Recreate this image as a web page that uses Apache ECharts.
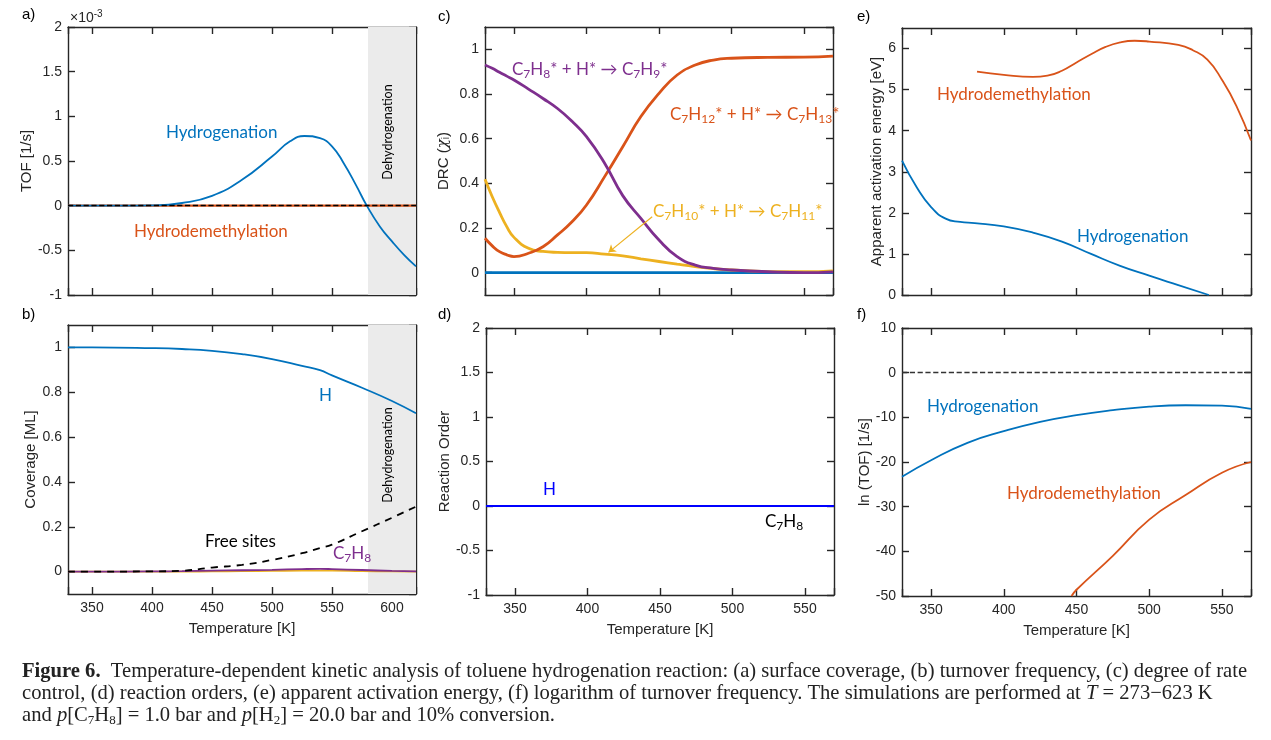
<!DOCTYPE html>
<html>
<head>
<meta charset="utf-8">
<script src="https://cdn.jsdelivr.net/npm/echarts@6/dist/echarts.min.js"></script>
<style>html,body{margin:0;padding:0;background:#fff}#chart{width:1271px;height:740px}</style>
</head>
<body>
<div id="chart"></div>
<script>
// (a) TOF, x10^-3 1/s
const tA = [330, 350, 375, 400, 425, 450, 475, 500, 515, 527, 540, 550, 560, 570, 579, 590, 600, 610, 620];
const tofHydA = [0, 0, 0, 0.003, 0.03, 0.11, 0.29, 0.55, 0.72, 0.78, 0.755, 0.665, 0.47, 0.23, 0, -0.235, -0.40, -0.55, -0.68];
const tFlatA = [330, 620];
const tofDemA = [0, 0];
// (b) coverage
const tB = [330, 350, 400, 425, 450, 475, 500, 525, 540, 550, 575, 600, 620];
const covH = [1.0, 1.0, 0.997, 0.993, 0.985, 0.97, 0.948, 0.918, 0.899, 0.875, 0.82, 0.761, 0.706];
const covFree = [0, 0, 0.001, 0.004, 0.018, 0.03, 0.052, 0.082, 0.105, 0.12, 0.18, 0.24, 0.29];
const covC7H8 = [0, 0, 0.001, 0.002, 0.004, 0.006, 0.008, 0.011, 0.012, 0.011, 0.007, 0.003, 0.001];
const covOther = [0, 0, 0, 0, 0.001, 0.002, 0.003, 0.004, 0.004, 0.004, 0.002, 0.001, 0];
// (c) DRC
const tC = [330, 335, 340, 345, 350, 360, 370, 380, 390, 400, 412.5, 425, 437.5, 450, 462.5, 475, 487.5, 500, 525, 550, 570];
const drcC7H8 = [0.93, 0.915, 0.897, 0.88, 0.863, 0.822, 0.78, 0.735, 0.678, 0.609, 0.49, 0.345, 0.243, 0.146, 0.072, 0.034, 0.019, 0.012, 0.004, 0, 0.004];
const drcC7H12 = [0.154, 0.12, 0.094, 0.08, 0.072, 0.087, 0.116, 0.169, 0.228, 0.303, 0.43, 0.564, 0.699, 0.803, 0.885, 0.93, 0.952, 0.96, 0.964, 0.965, 0.97];
const drcC7H10 = [0.418, 0.34, 0.27, 0.206, 0.158, 0.109, 0.095, 0.091, 0.09, 0.09, 0.083, 0.075, 0.062, 0.05, 0.038, 0.027, 0.018, 0.012, 0.005, 0.004, 0.008];
const tFlatC = [330, 570];
const drcOther = [0, 0];
const arrowC = [[445.3, 0.25], [415.2, 0.091]];
// (d) reaction order
const ordH = [0, 0];
const ordC7H8 = [0, 0];
// (e) apparent activation energy
const tEh = [330, 340, 350, 360, 370, 380, 400, 420, 440, 460, 480, 500, 520, 541];
const eaHyd = [3.27, 2.63, 2.14, 1.86, 1.78, 1.75, 1.67, 1.52, 1.3, 1.0, 0.71, 0.47, 0.24, 0];
const tEd = [381.6, 400, 420, 430, 440, 450, 460, 470, 480, 490, 500, 520, 530, 540, 550, 560, 570];
const eaDem = [5.44, 5.36, 5.31, 5.34, 5.46, 5.66, 5.86, 6.04, 6.15, 6.19, 6.17, 6.09, 5.96, 5.73, 5.24, 4.6, 3.76];
// (f) ln(TOF)
const tFh = [330, 350, 375, 400, 425, 450, 475, 500, 525, 550, 570];
const lnHyd = [-23.3, -19.6, -15.7, -13.1, -11.0, -9.5, -8.4, -7.6, -7.3, -7.4, -8.1];
const tFd = [446.6, 450, 475, 500, 525, 550, 570];
const lnDem = [-50, -48.6, -41, -32.9, -27.4, -22.4, -20];

const BLUE = '#0072BD', ORANGE = '#D95319', YELLOW = '#EDB120', PURPLE = '#7E2F8E';
const AX = '#262626';
const SANS = '"Liberation Sans", Arial, sans-serif';
const LAB = 'Lato, "Open Sans", sans-serif';
const SERIF = '"Liberation Serif", serif';

const grids = [
  {left: 68, top: 27, width: 348, height: 268},
  {left: 68, top: 325, width: 348, height: 269},
  {left: 485, top: 27, width: 348, height: 268},
  {left: 486, top: 328, width: 348, height: 267},
  {left: 902, top: 28, width: 349, height: 267},
  {left: 902, top: 328, width: 349, height: 268}
];
const panels = [
  {x: [330, 620], y: [-1, 2], yInt: 0.5, xLab: false, yName: 'TOF [1/s]', gap: 32},
  {x: [330, 620], y: [-0.1, 1.1], split: 6, xLab: true, yName: 'Coverage [ML]', gap: 28},
  {x: [330, 570], y: [-0.1, 1.1], split: 6, xLab: false, yName: '{n|DRC (}{c|χ}{s|i}{n|)}', gap: 34},
  {x: [330, 570], y: [-1, 2], yInt: 0.5, xLab: true, yName: 'Reaction Order', gap: 33},
  {x: [330, 570], y: [0, 6.5], yInt: 1, xLab: false, yName: 'Apparent activation energy [eV]', gap: 16, hideMax: true},
  {x: [330, 570], y: [-50, 10], yInt: 10, xLab: true, yName: 'ln (TOF) [1/s]', gap: 29}
];

const line = { show: true, onZero: false, lineStyle: { color: AX, width: 1.4 } };
const tick = { show: true, inside: true, length: 7, lineStyle: { color: AX, width: 1.4 } };
const xAxes = [], yAxes = [];
panels.forEach((p, g) => {
  const xl = {
    show: p.xLab, color: AX, fontFamily: SANS, fontSize: 14, margin: 7,
    formatter: v => (v % 50 === 0 ? String(v) : '')
  };
  xAxes.push({ type: 'value', gridIndex: g, min: p.x[0], max: p.x[1], position: 'bottom',
    axisLine: line, axisTick: tick, axisLabel: xl, splitLine: { show: false },
    name: p.xLab ? 'Temperature [K]' : '', nameLocation: 'middle', nameGap: 27,
    nameTextStyle: { color: AX, fontFamily: SANS, fontSize: 15 } });
  xAxes.push({ type: 'value', gridIndex: g, min: p.x[0], max: p.x[1], position: 'top',
    axisLine: line, axisTick: tick, axisLabel: { show: false }, splitLine: { show: false } });
  const yl = { color: AX, fontFamily: SANS, fontSize: 14, margin: 6 };
  if (p.split) { yl.showMinLabel = false; yl.showMaxLabel = false; }
  if (p.hideMax) yl.showMaxLabel = false;
  const y = { type: 'value', gridIndex: g, min: p.y[0], max: p.y[1], position: 'left',
    axisLine: line, axisTick: tick, axisLabel: yl, splitLine: { show: false },
    name: p.yName, nameLocation: 'middle', nameGap: p.gap,
    nameTextStyle: { color: AX, fontFamily: SANS, fontSize: 15,
      rich: { n: { fontFamily: SANS, fontSize: 15, color: AX },
              c: { fontFamily: '"DejaVu Serif", serif', fontStyle: 'italic', fontSize: 15, color: AX },
              s: { fontFamily: SANS, fontSize: 10, color: AX, verticalAlign: 'bottom', lineHeight: 10 } } } };
  if (p.yInt) y.interval = p.yInt; else y.splitNumber = p.split;
  yAxes.push(y);
  yAxes.push({ type: 'value', gridIndex: g, min: p.y[0], max: p.y[1], position: 'right',
    interval: p.yInt, splitNumber: p.split,
    axisLine: line, axisTick: tick, axisLabel: { show: false }, splitLine: { show: false } });
});

function ser(g, xs, ys, color, width, extra) {
  return Object.assign({
    type: 'line', xAxisIndex: 2 * g, yAxisIndex: 2 * g,
    data: xs.map((x, i) => [x, ys[i]]),
    showSymbol: false, smooth: 0.5, silent: true,
    lineStyle: { color: color, width: width }, itemStyle: { color: color }
  }, extra || {});
}
const band = { silent: true, itemStyle: { color: '#ebebeb' }, data: [[{ xAxis: 580 }, { xAxis: 620 }]] };
const zeroLine = (c) => ({ silent: true, symbol: 'none', label: { show: false },
  lineStyle: { color: c, type: 'dashed', width: 1.3 }, data: [{ yAxis: 0 }] });

const series = [
  ser(0, tFlatA, tofDemA, ORANGE, 2.2, { markArea: band, markLine: zeroLine('#000'), z: 3 }),
  ser(0, tA, tofHydA, BLUE, 1.8),
  ser(1, tB, covOther, YELLOW, 1.8, { markArea: band }),
  ser(1, tB, covC7H8, PURPLE, 1.8),
  ser(1, tB, covFree, '#000', 1.8, { lineStyle: { color: '#000', width: 1.8, type: [7, 6] } }),
  ser(1, tB, covH, BLUE, 1.8),
  ser(2, tFlatC, drcOther, BLUE, 2.8),
  ser(2, tC, drcC7H10, YELLOW, 2.8, {
    markLine: { silent: true, symbol: ['none', 'arrow'], symbolSize: 7, label: { show: false },
      lineStyle: { color: YELLOW, type: 'solid', width: 1.2 },
      data: [[{ coord: arrowC[0] }, { coord: arrowC[1] }]] } }),
  ser(2, tC, drcC7H12, ORANGE, 2.8),
  ser(2, tC, drcC7H8, PURPLE, 2.8),
  ser(3, tFlatC, ordC7H8, '#000', 2),
  ser(3, tFlatC, ordH, '#0000ff', 2),
  ser(4, tEd, eaDem, ORANGE, 1.8),
  ser(4, tEh, eaHyd, BLUE, 1.8),
  ser(5, tFh, lnHyd, BLUE, 1.8, { markLine: zeroLine('#333') }),
  ser(5, tFd, lnDem, ORANGE, 1.8)
];

const chem = {
  n: { fontFamily: LAB, fontSize: 17, lineHeight: 20, verticalAlign: 'middle' },
  s: { fontFamily: LAB, fontSize: 12, lineHeight: 12, verticalAlign: 'bottom' }
};
function txt(x, y, text, color, size, extra) {
  const rich = {};
  for (const k in chem) rich[k] = Object.assign({}, chem[k], { fill: color, color: color });
  return Object.assign({ type: 'text', x: x, y: y, silent: true, z: 100,
    style: { text: text, fill: color, font: size + 'px ' + LAB, rich: rich,
      align: 'left', textAlign: 'left', verticalAlign: 'middle', textVerticalAlign: 'middle' } }, extra || {});
}
function rot(cx, cy, text) {
  return { type: 'text', x: cx, y: cy, rotation: Math.PI / 2, silent: true, z: 100,
    style: { text: text, fill: '#000', font: '12.5px ' + LAB, align: 'center', textAlign: 'center',
      verticalAlign: 'middle', textVerticalAlign: 'middle' } };
}
function plain(x, y, text, size) {
  return { type: 'text', x: x, y: y, silent: true, z: 100,
    style: { text: text, fill: '#000', font: size + 'px ' + SANS, align: 'left', textAlign: 'left',
      verticalAlign: 'middle', textVerticalAlign: 'middle' } };
}

const CS = 20.6;
const capRich = {
  b: { fontFamily: SERIF, fontSize: CS, fontWeight: 'bold', fill: '#222', lineHeight: 22, verticalAlign: 'middle' },
  r: { fontFamily: SERIF, fontSize: CS, fill: '#222', lineHeight: 22, verticalAlign: 'middle' },
  i: { fontFamily: SERIF, fontSize: CS, fontStyle: 'italic', fill: '#222', lineHeight: 22, verticalAlign: 'middle' },
  s: { fontFamily: SERIF, fontSize: 13, fill: '#222', lineHeight: 13, verticalAlign: 'bottom' }
};
function cap(y, text) {
  return { type: 'text', x: 22, y: y, silent: true,
    style: { text: text, rich: capRich, fill: '#222', font: CS + 'px ' + SERIF,
      align: 'left', textAlign: 'left', verticalAlign: 'middle', textVerticalAlign: 'middle' } };
}

const graphic = [
  plain(22, 15, 'a)', 15), plain(22, 315, 'b)', 15), plain(438, 17, 'c)', 15),
  plain(438, 315, 'd)', 15), plain(857, 17, 'e)', 15), plain(857, 315, 'f)', 15),
  { type: 'text', x: 70, y: 18, silent: true,
    style: { text: '{n|×10}{p|-3}', fill: AX, rich: {
      n: { fontFamily: SANS, fontSize: 14, fill: AX, lineHeight: 18, verticalAlign: 'middle' },
      p: { fontFamily: SANS, fontSize: 10, fill: AX, lineHeight: 10, verticalAlign: 'top' } },
      align: 'left', textAlign: 'left', verticalAlign: 'middle', textVerticalAlign: 'middle' } },
  txt(166, 133, '{n|Hydrogenation}', BLUE, 17),
  txt(134, 232, '{n|Hydrodemethylation}', ORANGE, 17),
  rot(388, 132, 'Dehydrogenation'),
  txt(319, 396, '{n|H}', BLUE, 17),
  txt(205, 542, '{n|Free sites}', '#000', 17),
  txt(333, 554, '{n|C}{s|7}{n|H}{s|8}', PURPLE, 17),
  rot(388, 455, 'Dehydrogenation'),
  txt(512, 70, '{n|C}{s|7}{n|H}{s|8}{n|* + H* → C}{s|7}{n|H}{s|9}{n|*}', PURPLE, 17),
  txt(670, 115, '{n|C}{s|7}{n|H}{s|12}{n|* + H* → C}{s|7}{n|H}{s|13}{n|*}', ORANGE, 17),
  txt(653, 212, '{n|C}{s|7}{n|H}{s|10}{n|* + H* → C}{s|7}{n|H}{s|11}{n|*}', YELLOW, 17),
  txt(543, 490, '{n|H}', '#0000ff', 17),
  txt(765, 522, '{n|C}{s|7}{n|H}{s|8}', '#000', 17),
  txt(937, 95, '{n|Hydrodemethylation}', ORANGE, 17),
  txt(1077, 237, '{n|Hydrogenation}', BLUE, 17),
  txt(927, 407, '{n|Hydrogenation}', BLUE, 17),
  txt(1007, 494, '{n|Hydrodemethylation}', ORANGE, 17),
  cap(672, '{b|Figure 6.}{r|  Temperature-dependent kinetic analysis of toluene hydrogenation reaction: (a) surface coverage, (b) turnover frequency, (c) degree of rate}'),
  cap(694, '{r|control, (d) reaction orders, (e) apparent activation energy, (f) logarithm of turnover frequency. The simulations are performed at }{i|T}{r| = 273−623 K}'),
  cap(716, '{r|and }{i|p}{r|[C}{s|7}{r|H}{s|8}{r|] = 1.0 bar and }{i|p}{r|[H}{s|2}{r|] = 20.0 bar and 10% conversion.}')
];

const chart = echarts.init(document.getElementById('chart'));
chart.setOption({
  animation: false,
  backgroundColor: '#fff',
  grid: grids,
  xAxis: xAxes,
  yAxis: yAxes,
  series: series,
  graphic: graphic
});
</script>
</body>
</html>
